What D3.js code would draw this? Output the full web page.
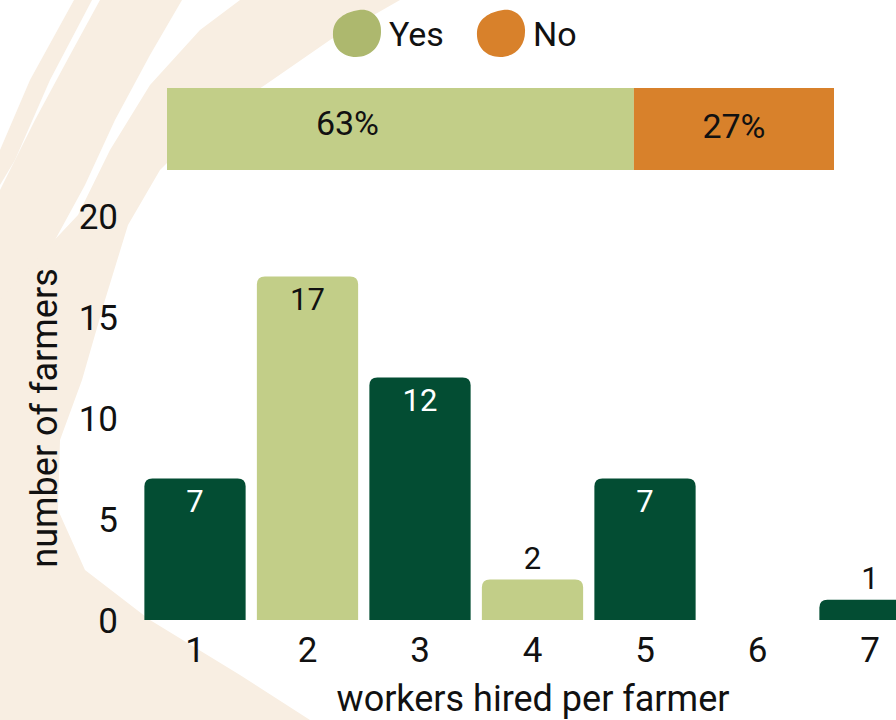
<!DOCTYPE html>
<html><head><meta charset="utf-8">
<script src="https://cdn.jsdelivr.net/npm/d3@7"></script>
<style>html,body{margin:0;padding:0;background:#fff;overflow:hidden}svg{display:block}text{font-family:Roboto,"Open Sans",sans-serif}</style>
</head><body>
<svg id="c" width="896" height="720"></svg>
<script>
const categories = ["1","2","3","4","5","6","7"];
const farmers = [7,17,12,2,7,0,1];
const barColorKey = ["dark","light","dark","light","dark","dark","dark"];
const yTicks = [0,5,10,15,20];
const shareLabels = ["Yes","No"];
const shareValues = [63,27];

const colors = {dark:"#034d33", light:"#c2ce88", yes:"#c2ce88", no:"#d8812b", legendYes:"#adb86e", legendNo:"#d8812b", bg:"#f8eee2"};
const FS = 35;

const svg = d3.select("#c");

// background brush strokes
const bgShapes = [
  [[74,0],[92,0],[50,80],[15,160],[0,185],[0,150],[30,80]],
  [[100,0],[182,0],[150,55],[115,120],[85,185],[55,240],[20,290],[0,310],[0,190],[35,120],[70,55]],
  [[240,0],[400,0],[330,40],[265,85],[205,125],[160,170],[128,225],[105,300],[82,380],[60,440],[58,510],[85,570],[150,620],[240,675],[310,720],[0,720],[0,300],[45,250],[78,215],[110,150],[150,85],[200,30]]
];
svg.append("g").selectAll("path").data(bgShapes).join("path")
  .attr("d", d => d3.line().curve(d3.curveLinearClosed)(d))
  .attr("fill", colors.bg);

// legend
const legendBlob = "M2,-23 C15,-25 25,-14 24,-1 C24,13 14,24 -1,24 C-15,24 -25,14 -24,-1 C-23,-14 -12,-21 2,-23 Z";
const legendItems = [{k:"Yes",c:colors.legendYes,x:357},{k:"No",c:colors.legendNo,x:501}];
const lg = svg.append("g").selectAll("g").data(legendItems).join("g").attr("transform", d=>`translate(${d.x},33)`);
lg.append("path").attr("d", legendBlob).attr("fill", d=>d.c);
lg.append("text").attr("x",32).attr("y",13).attr("font-size",34).attr("fill","#111").text(d=>d.k);

// stacked share bar
const total = d3.sum(shareValues);
const xs = d3.scaleLinear().domain([0,total]).range([167,834]);
let acc = 0;
const segs = shareValues.map((v,i)=>{const s={label:shareLabels[i],v,start:acc}; acc+=v; return s;});
const sg = svg.append("g");
sg.selectAll("rect").data(segs).join("rect")
  .attr("x", d=>xs(d.start)).attr("width", d=>xs(d.start+d.v)-xs(d.start))
  .attr("y",88).attr("height",82)
  .attr("fill", (d,i)=> i===0?colors.yes:colors.no);
sg.selectAll("text").data(segs).join("text")
  .attr("x", (d,i)=> i===0 ? (xs(d.start)+xs(d.start+d.v))/2 - 53 : (xs(d.start)+xs(d.start+d.v))/2)
  .attr("y", (d,i)=> i===0?135:138)
  .attr("text-anchor","middle").attr("font-size",34).attr("fill","#111")
  .text(d=>d.v+"%");

// bar chart
const x = d3.scaleBand().domain(categories).range([138.75,926.25]).paddingInner(0.1).paddingOuter(0.05);
const y = d3.scaleLinear().domain([0,20]).range([620,216]);

const r = 8;
function topRounded(x0,y0,w,h){
  const rr = Math.min(r,h,w/2);
  return `M${x0},${y0+h} V${y0+rr} Q${x0},${y0} ${x0+rr},${y0} H${x0+w-rr} Q${x0+w},${y0} ${x0+w},${y0+rr} V${y0+h} Z`;
}
const data = categories.map((c,i)=>({c,v:farmers[i],k:barColorKey[i]}));
const bars = svg.append("g");
bars.selectAll("path").data(data.filter(d=>d.v>0)).join("path")
  .attr("d", d=>topRounded(x(d.c), y(d.v), x.bandwidth(), y(0)-y(d.v)))
  .attr("fill", d=>colors[d.k]);
bars.selectAll("text").data(data.filter(d=>d.v>0)).join("text")
  .attr("x", d=>x(d.c)+x.bandwidth()/2)
  .attr("y", d=> d.v>=5 ? y(d.v)+33 : y(d.v)-11)
  .attr("text-anchor","middle").attr("font-size",31)
  .attr("fill", d=> d.v>=5 && d.k==="dark" ? "#fff" : "#111")
  .text(d=>d.v);

// axes
const yAxis = svg.append("g").attr("transform","translate(118,0)")
  .call(d3.axisLeft(y).tickValues(yTicks).tickSize(0).tickPadding(0));
yAxis.select(".domain").remove();
yAxis.selectAll("text").attr("font-size",FS).attr("fill","#111").attr("font-family","Roboto,sans-serif").attr("dy","0.36em");

const xAxis = svg.append("g").attr("transform","translate(0,662)")
  .call(d3.axisBottom(x).tickSize(0).tickPadding(0));
xAxis.select(".domain").remove();
xAxis.selectAll("text").attr("font-size",FS).attr("fill","#111").attr("font-family","Roboto,sans-serif").attr("y",0).attr("dy","0");

svg.append("text").attr("transform","translate(57,418) rotate(-90)")
  .attr("text-anchor","middle").attr("font-size",36).attr("fill","#111").text("number of farmers");
svg.append("text").attr("x",533).attr("y",711)
  .attr("text-anchor","middle").attr("font-size",36).attr("fill","#111").text("workers hired per farmer");
</script>
</body></html>
